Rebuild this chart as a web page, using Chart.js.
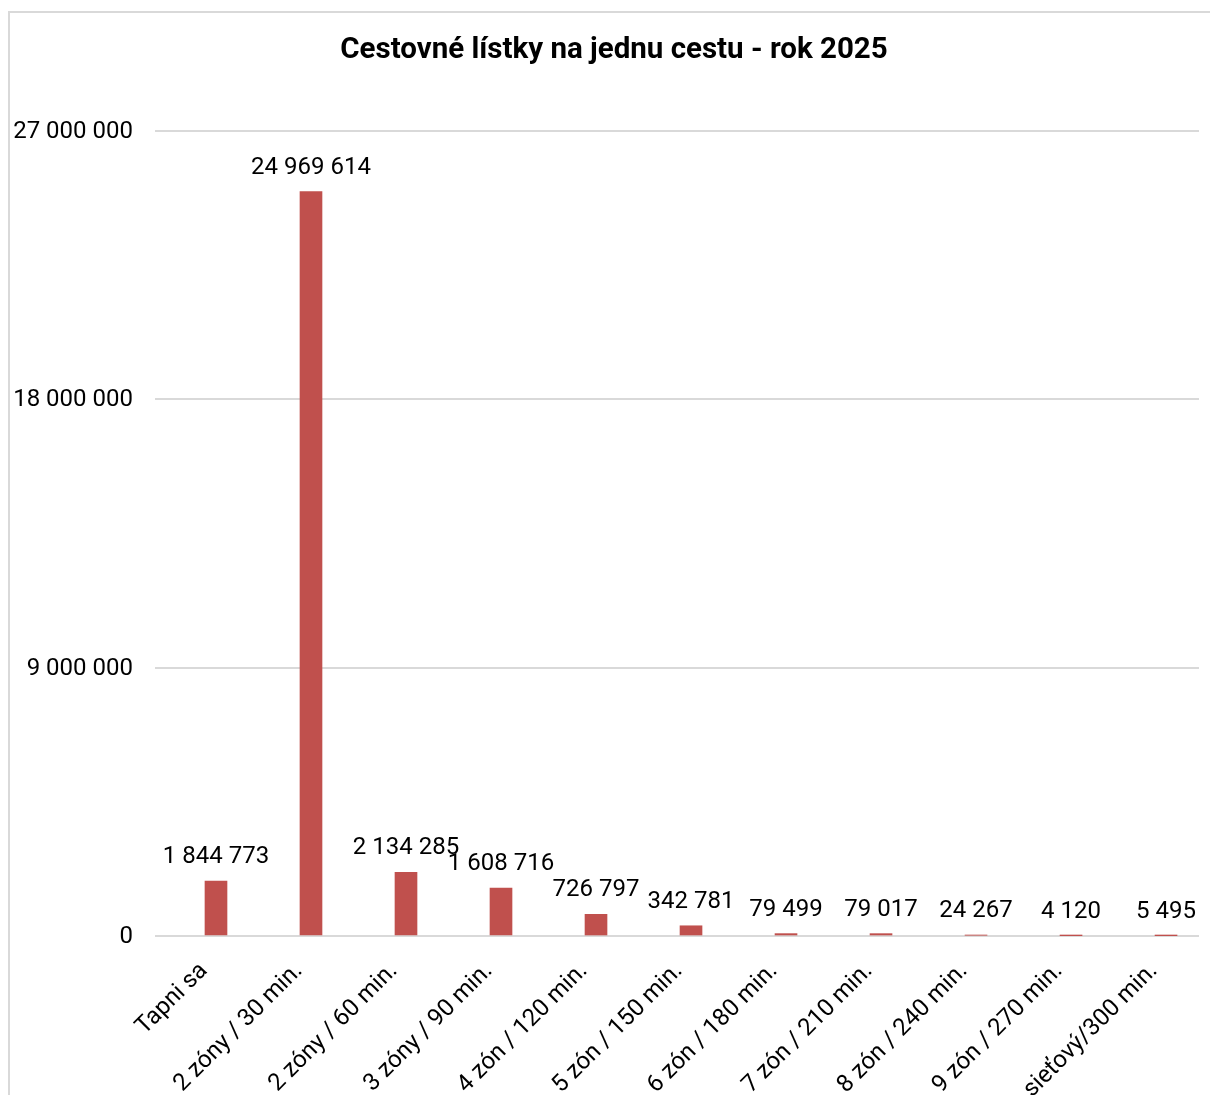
<!DOCTYPE html>
<html lang="sk">
<head>
  <meta charset="utf-8">
  <title>Cestovné lístky na jednu cestu - rok 2025</title>
  <script src="https://cdn.jsdelivr.net/npm/chart.js"></script>
  <style>
    html, body { margin: 0; padding: 0; background: #fff; overflow: hidden; }
    .frame {
      position: absolute; left: 8px; top: 11px;
      width: 1300px; height: 1200px;
      border-left: 2px solid #d9d9d9; border-top: 2px solid #d9d9d9;
    }
    #graf { position: absolute; left: 0; top: 0; }
  </style>
</head>
<body>
  <div class="frame"></div>
  <canvas id="graf" width="1210" height="1095"></canvas>

<script>
  // kategórie a hodnoty
  var nadpis = 'Cestovné lístky na jednu cestu - rok 2025';
  var kategorie = ['Tapni sa', '2 zóny / 30 min.', '2 zóny / 60 min.', '3 zóny / 90 min.',
    '4 zón / 120 min.', '5 zón / 150 min.', '6 zón / 180 min.', '7 zón / 210 min.',
    '8 zón / 240 min.', '9 zón / 270 min.', 'sieťový/300 min.'];
  var pocty = [1844773, 24969614, 2134285, 1608716, 726797, 342781, 79499, 79017, 24267, 4120, 5495];
  var yTicks = [0, 9000000, 18000000, 27000000];

  function formatuj(n) {
    return String(n).replace(/\B(?=(\d{3})+(?!\d))/g, ' ');
  }

  // nadpis grafu (v exceli je trochu posunutý doprava od stredu)
  var titulok = {
    id: 'titulok',
    afterDraw: function (chart) {
      var ctx = chart.ctx;
      ctx.save();
      ctx.font = 'bold 29.5px Roboto';
      ctx.fillStyle = '#000';
      ctx.textAlign = 'center';
      ctx.textBaseline = 'middle';
      ctx.fillText(nadpis, chart.width / 2 + 9, 51);
      ctx.restore();
    }
  };

  // popisky hodnôt nad stĺpcami
  var popisky = {
    id: 'popisky',
    afterDatasetsDraw: function (chart) {
      var ctx = chart.ctx;
      var meta = chart.getDatasetMeta(0);
      ctx.save();
      ctx.font = '24px Roboto';
      ctx.fillStyle = '#000';
      ctx.textAlign = 'center';
      ctx.textBaseline = 'middle';
      meta.data.forEach(function (bar, i) {
        ctx.fillText(formatuj(pocty[i]), bar.x, bar.y - 24);
      });
      ctx.restore();
    }
  };

  var body = kategorie.map(function (k, i) { return { x: i, y: pocty[i] }; });

  var ctx = document.getElementById('graf').getContext('2d');
  var graf = new Chart(ctx, {
    type: 'bar',
    data: {
      datasets: [{
        data: body,
        backgroundColor: '#c0504d',
        barThickness: 22
      }]
    },
    options: {
      responsive: false,
      animation: false,
      layout: { padding: { left: 0, right: 11, top: 131, bottom: 0 } },
      plugins: {
        legend: { display: false },
        tooltip: { enabled: false },
        title: { display: false }
      },
      scales: {
        x: {
          type: 'linear',
          offset: false,
          min: -0.642,
          max: 10.347,
          grid: { display: false },
          border: { display: false },
          afterFit: function (s) { s.height = 159; },
          ticks: {
            stepSize: 1,
            includeBounds: false,
            autoSkip: false,
            minRotation: 45,
            maxRotation: 45,
            padding: 13,
            labelOffset: -12,
            color: '#000',
            font: { family: 'Roboto', size: 24 },
            callback: function (v) {
              return Number.isInteger(v) ? kategorie[v] : '';
            }
          }
        },
        y: {
          min: 0,
          max: 27000000,
          afterFit: function (s) { s.width = 155; },
          afterBuildTicks: function (s) {
            s.ticks = yTicks.map(function (v) { return { value: v }; });
          },
          grid: { color: '#d9d9d9', lineWidth: 2, drawTicks: false },
          border: { display: false },
          ticks: {
            padding: 22,
            labelOffset: 1,
            color: '#000',
            font: { family: 'Roboto', size: 24 },
            callback: function (v) { return formatuj(v); }
          }
        }
      }
    },
    plugins: [popisky, titulok]
  });
</script>
</body>
</html>
